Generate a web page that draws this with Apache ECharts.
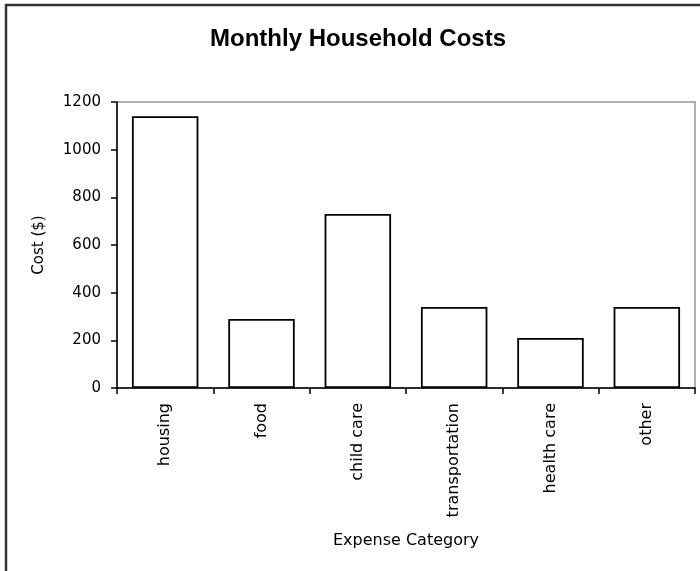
<!DOCTYPE html>
<html>
<head>
<meta charset="utf-8">
<script src="https://cdn.jsdelivr.net/npm/echarts@6/dist/echarts.min.js"></script>
<style>
  html, body { margin: 0; padding: 0; background: #fff; }
  #chart { width: 700px; height: 571px; }
</style>
</head>
<body>
<div id="chart"></div>
<script>
const categories = ["housing", "food", "child care", "transportation", "health care", "other"];
const costs = [1140, 290, 730, 340, 210, 340];
const yTicks = { min: 0, max: 1200, interval: 200 };

const labelFont = "DejaVu Sans";
const chart = echarts.init(document.getElementById("chart"));

chart.setOption({
  animation: false,
  backgroundColor: "#fff",
  title: {
    text: "Monthly Household Costs",
    left: 205,
    top: 22,
    textStyle: {
      fontFamily: "Liberation Sans",
      fontWeight: "bold",
      fontSize: 24,
      color: "#000"
    }
  },
  graphic: [
    {
      type: "rect",
      shape: { x: 6, y: 5, width: 720, height: 620 },
      style: { fill: "none", stroke: "#333", lineWidth: 2.5 },
      silent: true
    }
  ],
  grid: {
    left: 117,
    top: 102,
    right: 5,
    bottom: 183,
    show: true,
    borderColor: "#999",
    borderWidth: 1.5
  },
  xAxis: {
    type: "category",
    data: categories,
    name: "Expense Category",
    nameLocation: "middle",
    nameGap: 145,
    nameTextStyle: { fontFamily: labelFont, fontSize: 16, color: "#000" },
    axisLine: { lineStyle: { color: "#000", width: 1.5 } },
    axisTick: { show: true, length: 6, lineStyle: { color: "#000", width: 1.5 } },
    axisLabel: {
      rotate: 90,
      margin: 15,
      interval: 0,
      fontFamily: labelFont,
      fontSize: 16,
      color: "#000"
    },
    splitLine: { show: false }
  },
  yAxis: {
    type: "value",
    min: yTicks.min,
    max: yTicks.max,
    interval: yTicks.interval,
    name: "Cost ($)",
    nameLocation: "middle",
    nameGap: 70,
    nameTextStyle: { fontFamily: labelFont, fontSize: 15, color: "#000" },
    axisLine: { show: true, lineStyle: { color: "#000", width: 1.5 } },
    axisTick: { show: true, length: 6, lineStyle: { color: "#000", width: 1.5 } },
    axisLabel: {
      margin: 16,
      fontFamily: labelFont,
      fontSize: 15,
      color: "#000",
      formatter: (v) => String(v)
    },
    splitLine: { show: false }
  },
  series: [
    {
      type: "bar",
      data: costs,
      barCategoryGap: "31%",
      itemStyle: { color: "#fff", borderColor: "#000", borderWidth: 1.8 },
      silent: true
    }
  ]
});
</script>
</body>
</html>
